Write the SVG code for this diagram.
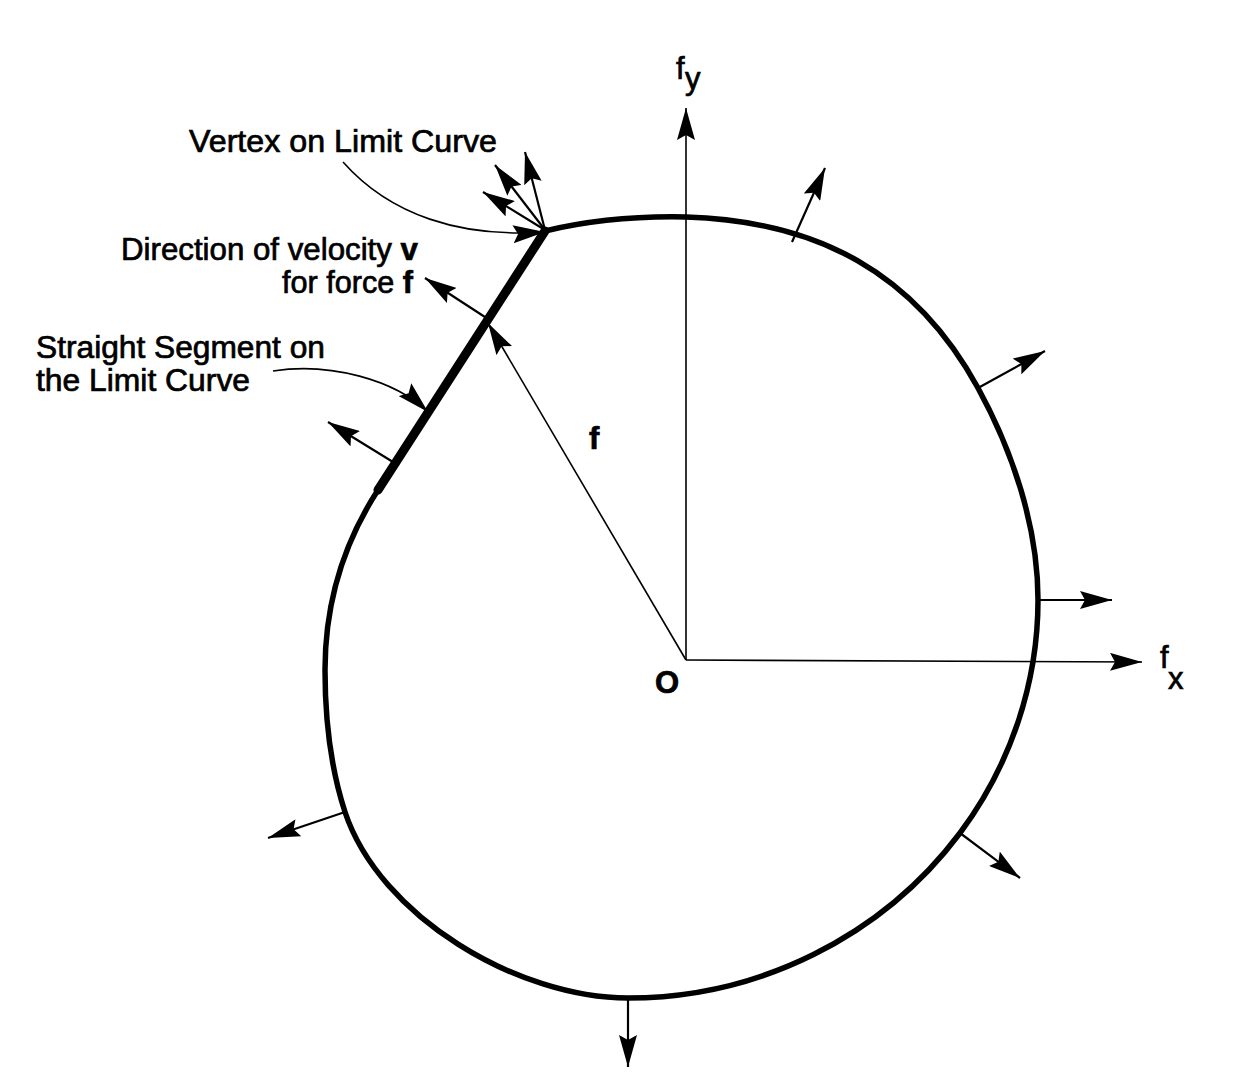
<svg xmlns="http://www.w3.org/2000/svg" width="1233" height="1077" viewBox="0 0 1233 1077">
<style>
text{font-family:"Liberation Sans",Arial,sans-serif;fill:#000;font-size:31px;stroke:#000;stroke-width:0.7}
.b{font-weight:bold}
.axis{stroke:#000;stroke-width:1.6;fill:none}
.norm{stroke:#000;stroke-width:2.2;fill:none}
.lead{stroke:#000;stroke-width:1.6;fill:none}
.curve{stroke:#000;stroke-width:5.5;fill:none;stroke-linejoin:round;stroke-linecap:round}
.seg{stroke:#000;stroke-width:9;fill:none;stroke-linecap:round}
</style>
<defs>
<marker id="ah" viewBox="0 0 32 18" refX="32" refY="9" markerWidth="32" markerHeight="18" markerUnits="userSpaceOnUse" orient="auto">
<path d="M0,0 L32,9 L0,18 L5,9 Z" fill="#000"/>
</marker>
</defs>
<rect width="1233" height="1077" fill="#fff"/>
<g id="limit-curve">
<path class="curve" d="M545,231 C591,220 639,216 686,217 C818,221 915,273 978,388 C1013,452 1038,527 1038,600 C1038,684 1010,766 960,833 C882,937 758,998 628,998 C518,998 380,917 345,812 C330,766 325,718 325,670 C325,606 343,544 378,490"/>
<line id="straight-segment" class="seg" x1="378" y1="490" x2="545" y2="231"/>
</g>
<g id="connectors">
<line class="axis" x1="686" y1="660" x2="686" y2="108" marker-end="url(#ah)"/>
<line class="axis" x1="686" y1="660" x2="1142" y2="662" marker-end="url(#ah)"/>
<line class="axis" x1="686" y1="660" x2="488" y2="323" marker-end="url(#ah)"/>
<line class="norm" x1="488" y1="319" x2="425" y2="278" marker-end="url(#ah)"/>
<line class="norm" x1="792" y1="242" x2="825" y2="168" marker-end="url(#ah)"/>
<line class="norm" x1="978" y1="388" x2="1045" y2="351" marker-end="url(#ah)"/>
<line class="norm" x1="1038" y1="600" x2="1112" y2="600" marker-end="url(#ah)"/>
<line class="norm" x1="960" y1="833" x2="1020" y2="878" marker-end="url(#ah)"/>
<line class="norm" x1="628" y1="998" x2="628" y2="1067" marker-end="url(#ah)"/>
<line class="norm" x1="345" y1="812" x2="268" y2="838" marker-end="url(#ah)"/>
<line class="norm" x1="393" y1="462" x2="328" y2="422" marker-end="url(#ah)"/>
<line class="norm" x1="545" y1="230" x2="525" y2="152" marker-end="url(#ah)"/>
<line class="norm" x1="545" y1="230" x2="495" y2="165" marker-end="url(#ah)"/>
<line class="norm" x1="545" y1="230" x2="483" y2="192" marker-end="url(#ah)"/>
<path class="lead" d="M343,162 C390,215 460,238 545,232" marker-end="url(#ah)"/>
<path class="lead" d="M273,371 C330,362 395,380 428,412" marker-end="url(#ah)"/>
</g>
<g id="label-vertex"><text x="189" y="152" textLength="308" lengthAdjust="spacingAndGlyphs">Vertex on Limit Curve</text></g>
<g id="label-direction">
<text x="121" y="260" textLength="297" lengthAdjust="spacingAndGlyphs">Direction of velocity <tspan class="b">v</tspan></text>
<text x="282" y="293" textLength="131" lengthAdjust="spacingAndGlyphs">for force <tspan class="b">f</tspan></text>
</g>
<g id="label-segment">
<text x="36" y="358" font-size="29" textLength="289" lengthAdjust="spacingAndGlyphs">Straight Segment on</text>
<text x="36" y="391" font-size="29" textLength="214" lengthAdjust="spacingAndGlyphs">the Limit Curve</text>
</g>
<g id="label-fy"><text x="676" y="79" font-size="28">f</text><text x="685" y="89" font-size="28">y</text></g>
<g id="label-fx"><text x="1160" y="668" font-size="28">f</text><text x="1168" y="689" font-size="28">x</text></g>
<g id="label-o"><text class="b" x="667" y="693" font-size="29" text-anchor="middle">O</text></g>
<g id="label-f"><text class="b" x="589" y="449" font-size="30">f</text></g>
</svg>
